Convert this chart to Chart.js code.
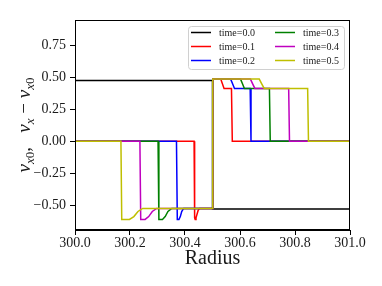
<!DOCTYPE html>
<html>
<head>
<meta charset="utf-8">
<script src="https://cdn.jsdelivr.net/npm/chart.js@4.4.0/dist/chart.umd.min.js"></script>
<style>
  body { margin: 0; background: #fff; }
  canvas { display: block; }
</style>
</head>
<body>
<canvas id="profileChart" width="382" height="286"></canvas>
<script>
var SERIF = "'Liberation Serif', 'DejaVu Serif', serif";

var LABELS = ['time=0.0', 'time=0.1', 'time=0.2', 'time=0.3', 'time=0.4', 'time=0.5'];
var COLORS = ['#000000', '#ff0000', '#0000ff', '#008000', '#bf00bf', '#bfbf00'];

var xTicks = [300.0, 300.2, 300.4, 300.6, 300.8, 301.0];
var yTicks = [-0.5, -0.25, 0.0, 0.25, 0.5, 0.75];

// time = 0.0
var r0 = [300.0, 300.5, 300.5, 301.0];
var v0 = [0.477, 0.477, -0.530, -0.530];

// time = 0.1
var r1 = [300.0, 300.433, 300.435, 300.437, 300.440, 300.444, 300.448, 300.453, 300.499, 300.501, 300.530, 300.536, 300.542, 300.569, 300.572, 301.0];
var v1 = [0, 0, -0.600, -0.612, -0.600, -0.570, -0.540, -0.526, -0.526, 0.487, 0.487, 0.450, 0.414, 0.414, 0, 0];

// time = 0.2
var r2 = [300.0, 300.369, 300.372, 300.378, 300.383, 300.388, 300.395, 300.499, 300.501, 300.566, 300.573, 300.580, 300.637, 300.640, 301.0];
var v2 = [0, 0, -0.612, -0.612, -0.590, -0.550, -0.526, -0.526, 0.487, 0.487, 0.450, 0.414, 0.414, 0, 0];

// time = 0.3
var r3 = [300.0, 300.302, 300.305, 300.318, 300.328, 300.338, 300.352, 300.499, 300.501, 300.602, 300.609, 300.616, 300.707, 300.710, 301.0];
var v3 = [0, 0, -0.612, -0.612, -0.590, -0.550, -0.526, -0.526, 0.487, 0.487, 0.450, 0.414, 0.414, 0, 0];

// time = 0.4
var r4 = [300.0, 300.236, 300.239, 300.255, 300.268, 300.281, 300.297, 300.499, 300.501, 300.638, 300.646, 300.654, 300.777, 300.780, 301.0];
var v4 = [0, 0, -0.612, -0.612, -0.590, -0.550, -0.526, -0.526, 0.487, 0.487, 0.450, 0.414, 0.414, 0, 0];

// time = 0.5
var r5 = [300.0, 300.167, 300.170, 300.198, 300.214, 300.229, 300.246, 300.499, 300.501, 300.670, 300.679, 300.688, 300.846, 300.849, 301.0];
var v5 = [0, 0, -0.612, -0.612, -0.590, -0.550, -0.526, -0.526, 0.487, 0.487, 0.450, 0.414, 0.414, 0, 0];

var radii = [r0, r1, r2, r3, r4, r5];
var values = [v0, v1, v2, v3, v4, v5];

function toPoints(r, v) {
    return r.map(function (x, i) { return { x: x, y: v[i] }; });
}

var datasets = LABELS.map(function (label, i) {
    return {
        label: label,
        data: toPoints(radii[i], values[i]),
        borderColor: COLORS[i],
        backgroundColor: COLORS[i],
        borderWidth: 1.5,
        showLine: true,
        pointRadius: 0,
        tension: 0,
        order: LABELS.length - i   // later times drawn on top
    };
});

function fmtY(v) {
    var s = Math.abs(v).toFixed(2);
    return (v < -1e-9 ? '\u2212' : '') + s;
}

// frame, legend box and the y-axis label with subscripts
var extras = {
    id: 'extras',
    afterDraw: function (chart) {
        var ctx = chart.ctx;
        var a = chart.chartArea;
        ctx.save();

        // axes frame (all four spines)
        ctx.strokeStyle = '#000';
        ctx.lineWidth = 1;
        ctx.strokeRect(Math.round(a.left) + 0.5, Math.round(a.top) + 0.5,
            Math.round(a.right - a.left) - 1, Math.round(a.bottom - a.top) - 1);

        // legend
        var lx = 188, ly = 26, lw = 156, lh = 43;
        ctx.beginPath();
        ctx.roundRect(lx + 0.5, ly + 0.5, lw, lh, 3);
        ctx.fillStyle = 'rgba(255,255,255,0.8)';
        ctx.fill();
        ctx.strokeStyle = '#d0d0d0';
        ctx.stroke();

        ctx.font = '10px ' + SERIF;
        ctx.textBaseline = 'middle';
        ctx.textAlign = 'left';
        var cols = [191, 275];
        for (var i = 0; i < LABELS.length; i++) {
            var c = Math.floor(i / 3), row = i % 3;
            var x = cols[c], y = 32.5 + row * 14;
            ctx.strokeStyle = COLORS[i];
            ctx.lineWidth = 1.5;
            ctx.beginPath();
            ctx.moveTo(x, y);
            ctx.lineTo(x + 20, y);
            ctx.stroke();
            ctx.fillStyle = '#1a1a1a';
            ctx.fillText(LABELS[i], x + 28, y + 0.5);
        }

        // y label: nu_x0,  nu_x - nu_x0
        var parts = [
            ['\u03bd', 'i', 0], ['x', 'i', 1], ['0', 'r', 1], [',', 'r', 0], ['   ', 'r', 0],
            ['\u03bd', 'i', 0], ['x', 'i', 1], [' \u2212 ', 'r', 0],
            ['\u03bd', 'i', 0], ['x', 'i', 1], ['0', 'r', 1]
        ];
        var big = 19, small = 13;
        function setFont(p) {
            var size = p[2] ? small : big;
            ctx.font = (p[1] === 'i' ? 'italic ' : '') + size + 'px ' + SERIF;
        }
        var total = 0;
        parts.forEach(function (p) { setFont(p); total += ctx.measureText(p[0]).width; });
        ctx.translate(30, (a.top + a.bottom) / 2);
        ctx.rotate(-Math.PI / 2);
        ctx.fillStyle = '#1a1a1a';
        ctx.textBaseline = 'alphabetic';
        var px = -total / 2;
        parts.forEach(function (p) {
            setFont(p);
            ctx.fillText(p[0], px, p[2] ? 4 : 0);
            px += ctx.measureText(p[0]).width;
        });
        ctx.restore();
    }
};

var ctx = document.getElementById('profileChart').getContext('2d');
window.profileChart = new Chart(ctx, {
    type: 'scatter',
    data: { datasets: datasets },
    plugins: [extras],
    options: {
        responsive: false,
        animation: false,
        devicePixelRatio: 1,
        layout: { padding: { top: 20, right: 32, left: 0, bottom: 0 } },
        plugins: {
            legend: { display: false },
            tooltip: { enabled: false }
        },
        scales: {
            x: {
                type: 'linear',
                min: 300.0,
                max: 301.0,
                afterBuildTicks: function (scale) {
                    scale.ticks = xTicks.map(function (v) { return { value: v }; });
                },
                afterFit: function (scale) { scale.height = 56; },
                ticks: {
                    color: '#1a1a1a',
                    padding: 0,
                    maxRotation: 0,
                    font: { family: SERIF, size: 14 },
                    callback: function (v) { return Number(v).toFixed(1); }
                },
                grid: { drawOnChartArea: false, drawTicks: true, tickLength: 5, tickColor: '#000' },
                border: { display: true, color: '#000', width: 1 },
                title: {
                    display: true,
                    text: 'Radius',
                    color: '#1a1a1a',
                    font: { family: SERIF, size: 20 },
                    padding: { top: 0, bottom: 15 }
                }
            },
            y: {
                type: 'linear',
                min: -0.695,
                max: 0.95,
                afterBuildTicks: function (scale) {
                    scale.ticks = yTicks.map(function (v) { return { value: v }; });
                },
                afterFit: function (scale) { scale.width = 75; },
                ticks: {
                    color: '#1a1a1a',
                    padding: 4,
                    font: { family: SERIF, size: 14 },
                    callback: function (v) { return fmtY(v); }
                },
                grid: { drawOnChartArea: false, drawTicks: true, tickLength: 5, tickColor: '#000' },
                border: { display: true, color: '#000', width: 1 }
            }
        }
    }
});
</script>
</body>
</html>
